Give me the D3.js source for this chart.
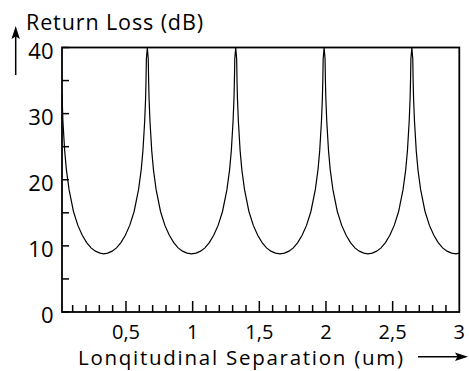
<!DOCTYPE html>
<html><head><meta charset="utf-8">
<script src="https://cdn.jsdelivr.net/npm/d3@7"></script>
<style>body{margin:0;background:#fff}svg{display:block}text{font-family:"Open Sans",sans-serif;fill:#000}</style>
</head><body><svg id="c" width="469" height="371"></svg>
<script>
// Data
const xValues = [0.02,0.027,0.04,0.053,0.073,0.106,0.139,0.172,0.205,0.238,0.271,0.305,0.334,
 0.363,0.396,0.429,0.462,0.495,0.528,0.561,0.594,0.614,0.627,0.640,0.647,0.650,0.653,0.660,
 0.667,0.670,0.673,0.680,0.693,0.706,0.726,0.759,0.792,0.825,0.858,0.891,0.924,0.958,0.992,
 1.026,1.059,1.092,1.125,1.158,1.191,1.224,1.257,1.277,1.290,1.303,1.310,1.313,1.316,1.323,
 1.330,1.333,1.336,1.343,1.356,1.369,1.389,1.422,1.455,1.488,1.521,1.554,1.587,1.621,1.655,
 1.689,1.722,1.755,1.788,1.821,1.854,1.887,1.920,1.940,1.953,1.966,1.973,1.976,1.979,1.986,
 1.993,1.996,1.999,2.006,2.019,2.032,2.052,2.085,2.118,2.151,2.184,2.217,2.250,2.284,2.315,
 2.347,2.380,2.413,2.446,2.479,2.512,2.545,2.578,2.598,2.611,2.624,2.631,2.634,2.637,2.644,
 2.651,2.654,2.657,2.664,2.677,2.690,2.710,2.743,2.776,2.809,2.842,2.875,2.908,2.942,2.975,3.0];
const rlValues = [33.0,28.8,24.4,21.5,18.5,15.2,13.1,11.6,10.5,9.7,9.2,8.9,8.8,
 8.9,9.2,9.7,10.5,11.6,13.1,15.2,18.5,21.5,24.4,28.8,32.3,34.8,38.3,40,
 38.3,34.8,32.3,28.8,24.4,21.5,18.5,15.2,13.1,11.6,10.5,9.7,9.2,8.9,8.8,
 8.9,9.2,9.7,10.5,11.6,13.1,15.2,18.5,21.5,24.4,28.8,32.3,34.8,38.3,40,
 38.3,34.8,32.3,28.8,24.4,21.5,18.5,15.2,13.1,11.6,10.5,9.7,9.2,8.9,8.8,
 8.9,9.2,9.7,10.5,11.6,13.1,15.2,18.5,21.5,24.4,28.8,32.3,34.8,38.3,40,
 38.3,34.8,32.3,28.8,24.4,21.5,18.5,15.2,13.1,11.6,10.5,9.7,9.2,8.9,8.8,
 8.9,9.2,9.7,10.5,11.6,13.1,15.2,18.5,21.5,24.4,28.8,32.3,34.8,38.3,40,
 38.3,34.8,32.3,28.8,24.4,21.5,18.5,15.2,13.1,11.6,10.5,9.7,9.2,8.9,8.8,8.9];
const yMajorTicks = [0,10,20,30,40];
const yMinorTicks = [5,15,25,35];
const xLabelTicks = [0.5,1,1.5,2,2.5,3];
const xLabelText = ["0,5","1","1,5","2","2,5","3"];
const xMinorTicks = d3.range(1,30).map(i => i/10);
const yTitle = "Return Loss (dB)";
const xTitle = "Lonqitudinal Separation (um)";

const svg = d3.select("#c");
const L = 62, R = 459.3, T = 47.5, B = 312;
const x = d3.scaleLinear().domain([0.02,3]).range([L,R]);
const y = d3.scaleLinear().domain([0,40]).range([B,T]);

svg.append("defs").append("clipPath").attr("id","clip")
  .append("rect").attr("x",L).attr("y",T).attr("width",R-L).attr("height",B-T);

const pts = xValues.map((v,i)=>[v,rlValues[i]]);
svg.append("path").datum(pts).attr("clip-path","url(#clip)")
  .attr("fill","none").attr("stroke","#000").attr("stroke-width",1.2)
  .attr("d", d3.line().x(d=>x(d[0])).y(d=>y(d[1])));

// frame
svg.append("rect").attr("x",L).attr("y",T).attr("width",R-L).attr("height",B-T)
  .attr("fill","none").attr("stroke","#000").attr("stroke-width",1.8);

// y ticks
svg.selectAll(".yt").data(yMajorTicks.concat(yMinorTicks)).enter().append("line")
  .attr("x1",L).attr("x2",L+7).attr("y1",d=>y(d)).attr("y2",d=>y(d))
  .attr("stroke","#000").attr("stroke-width",1.5);
svg.selectAll(".yl").data(yMajorTicks).enter().append("text")
  .attr("x",53.5).attr("y",d=>y(d)+11).attr("text-anchor","end")
  .attr("font-size",22).text(d=>d);

// x ticks
svg.selectAll(".xt").data(xMinorTicks).enter().append("line")
  .attr("x1",d=>x(d)).attr("x2",d=>x(d)).attr("y1",B)
  .attr("y2",d=>B-(Math.abs(d*2-Math.round(d*2))<1e-6?11:7))
  .attr("stroke","#000").attr("stroke-width",1.5);
svg.selectAll(".xl").data(xLabelTicks).enter().append("text")
  .attr("x",d=>x(d)).attr("y",338.5).attr("text-anchor","middle")
  .attr("font-size",20).text((d,i)=>xLabelText[i]);

// titles
svg.append("text").attr("x",26).attr("y",29.5).attr("font-size",21.5)
  .attr("textLength",177).attr("lengthAdjust","spacing").text(yTitle);
svg.append("text").attr("x",78).attr("y",365).attr("font-size",20.5)
  .attr("textLength",325).attr("lengthAdjust","spacing").text(xTitle);

// arrows
svg.append("line").attr("x1",15.7).attr("x2",15.7).attr("y1",75).attr("y2",36).attr("stroke","#000").attr("stroke-width",1.5);
svg.append("path").attr("d","M15.7,26 L11.5,39 L15.7,36.5 L19.9,39 Z").attr("fill","#000");
svg.append("line").attr("x1",418).attr("x2",458).attr("y1",356.7).attr("y2",356.7).attr("stroke","#000").attr("stroke-width",1.5);
svg.append("path").attr("d","M468,356.7 L455,352.5 L457.5,356.7 L455,360.9 Z").attr("fill","#000");
</script></body></html>
